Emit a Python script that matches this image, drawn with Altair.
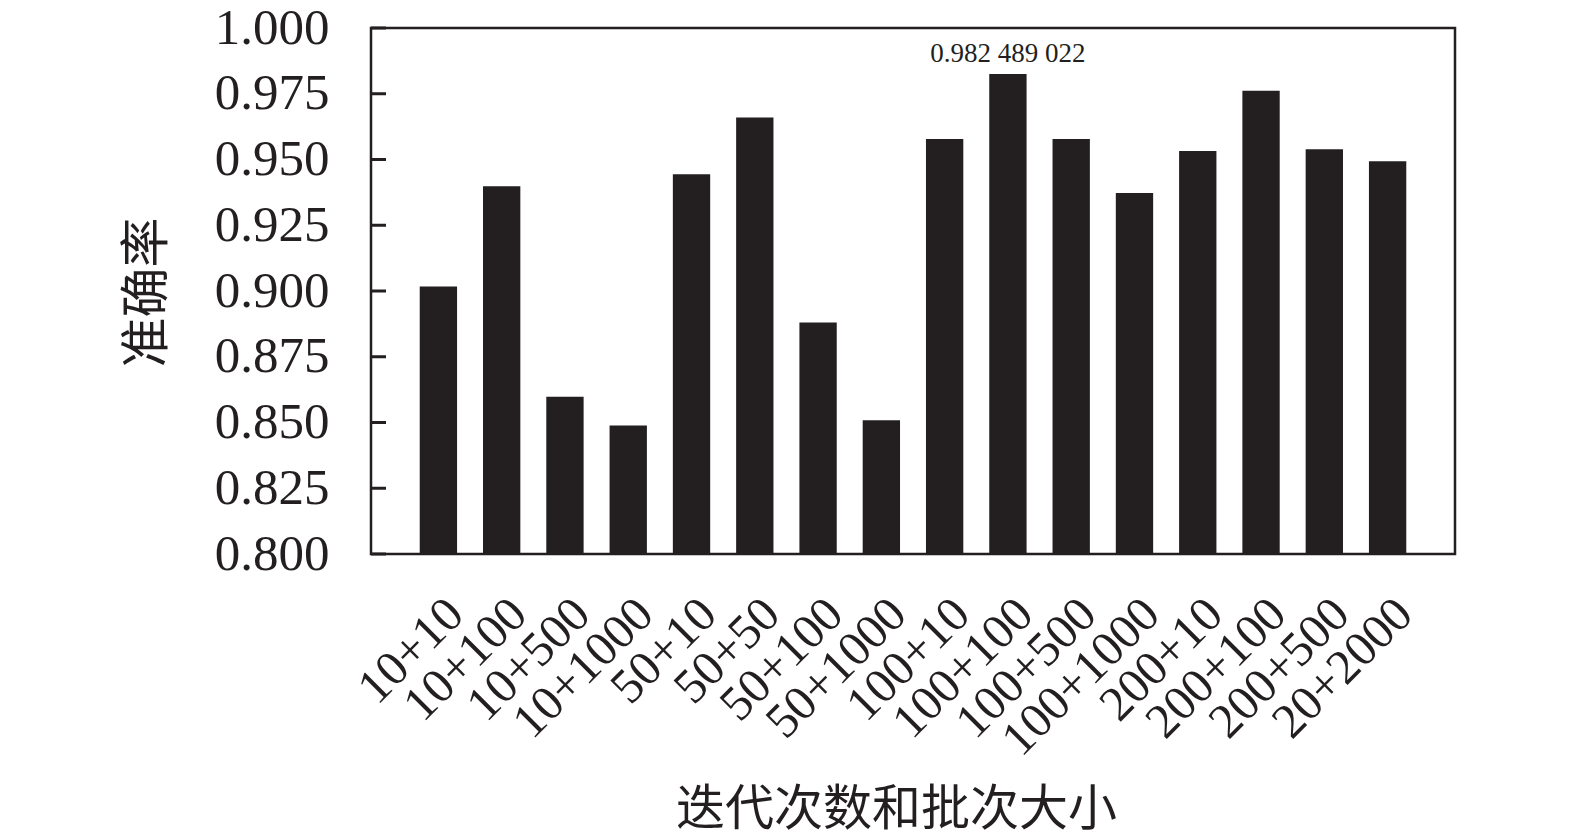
import altair as alt
import pandas as pd

categories = ["10+10", "10+100", "10+500", "10+1000", "50+10", "50+50", "50+100", "50+1000",
              "100+10", "100+100", "100+500", "100+1000", "200+10", "200+100", "200+500", "20+2000"]
accuracy = [0.9017, 0.9398, 0.8598, 0.8489, 0.9444, 0.9660, 0.8880, 0.8509,
            0.9578, 0.982489022, 0.9578, 0.9373, 0.9532, 0.9761, 0.9539, 0.9493]
y_ticks = [0.800, 0.825, 0.850, 0.875, 0.900, 0.925, 0.950, 0.975, 1.000]
y_min = 0.8
y_max = 1.0
annotation_category = "100+100"
annotation_text = "0.982 489 022"

x_title = "迭代次数和批次大小"
y_title = "准确率"

df = pd.DataFrame({"cat": categories, "acc": accuracy})
df["label"] = [annotation_text if c == annotation_category else "" for c in categories]
ticks_df = pd.DataFrame({"t": y_ticks})

SERIF = "Liberation Serif, Times New Roman, serif"
CJK = "Noto Sans CJK SC"
INK = "#231f20"

yscale = alt.Scale(domain=[y_min, y_max], nice=False, zero=False)
xscale = alt.Scale(paddingInner=0.41, paddingOuter=0.77)

bars = alt.Chart(df).mark_bar(color=INK).encode(
    x=alt.X("cat:N", sort=categories, scale=xscale,
            axis=alt.Axis(title=x_title, labelAngle=-45, labelAlign="right", labelBaseline="top",
                          labelPadding=35, ticks=False, tickSize=0, domain=False, labelLimit=0,
                          labelFont=SERIF, labelFontSize=49, labelColor=INK,
                          titleFont=CJK, titleFontSize=49, titleFontWeight="normal", titleColor=INK,
                          titleX=525, titleY=255, titleAlign="center", titleBaseline="middle")),
    y=alt.Y("acc:Q", scale=yscale,
            axis=alt.Axis(title=y_title, values=y_ticks, format=".3f", ticks=False, tickSize=0,
                          domain=False, grid=False, labelPadding=42, labelBaseline="middle",
                          labelFont=SERIF, labelFontSize=51, labelColor=INK,
                          titleFont=CJK, titleFontSize=50, titleFontWeight="normal", titleColor=INK,
                          titleAngle=-90, titleX=-224, titleY=264, titleAlign="center",
                          titleBaseline="middle")),
    y2=alt.datum(y_min),
)

text = alt.Chart(df).transform_filter(alt.datum.label != "").mark_text(
    font=SERIF, fontSize=27, color=INK, baseline="bottom", dy=-6
).encode(
    x=alt.X("cat:N", sort=categories, scale=xscale),
    y=alt.Y("acc:Q", scale=yscale),
    text="label:N",
)

tick_marks = alt.Chart(ticks_df).mark_rule(color=INK, strokeWidth=3).encode(
    y=alt.Y("t:Q", scale=yscale),
    x=alt.value(0),
    x2=alt.value(15),
)

chart = alt.layer(bars, tick_marks, text).properties(
    width=1084, height=526,
    padding={"left": 363, "top": 20, "right": 100, "bottom": 277},
    autosize=alt.AutoSizeParams(type="none"),
).configure(background="white").configure_view(stroke=INK, strokeWidth=2.5)

chart.save("out.html", embed_options={"renderer": "svg", "actions": False})
